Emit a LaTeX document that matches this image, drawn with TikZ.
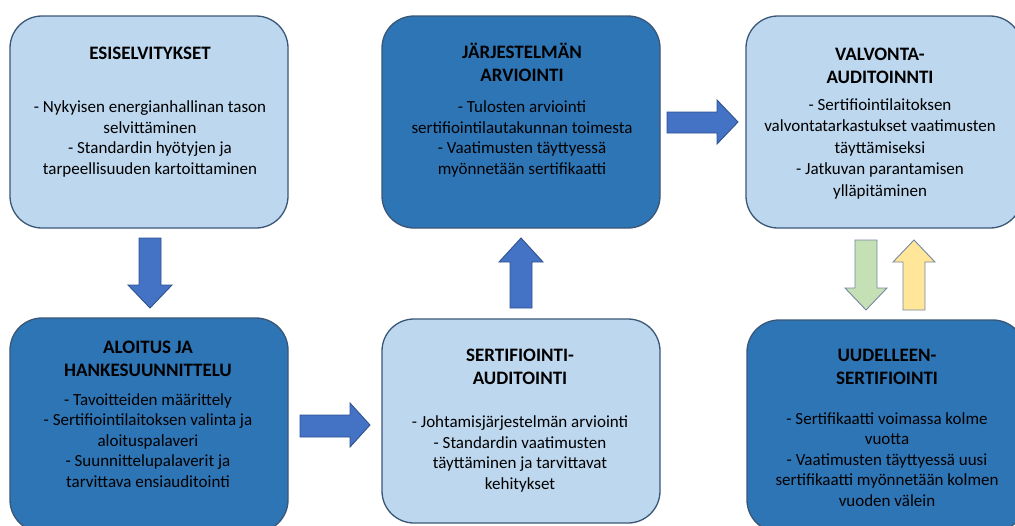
\documentclass[tikz,border=0pt]{standalone}
\usepackage{fontspec}
\setmainfont{Carlito}
\definecolor{paleblue}{HTML}{BDD7EE}
\definecolor{deepblue}{HTML}{2E75B6}
\definecolor{boxline}{HTML}{3A5676}
\definecolor{arrowfill}{HTML}{4472C4}
\definecolor{arrowline}{HTML}{2F528F}
\definecolor{greenfill}{HTML}{C5E0B4}
\definecolor{yellowfill}{HTML}{FFE699}
\definecolor{softline}{HTML}{7387A3}
\tikzset{
  stage/.style={draw=boxline, line width=1.3pt, rounded corners=32pt, inner sep=0pt},
  palestage/.style={stage, fill=paleblue},
  deepstage/.style={stage, fill=deepblue},
  % multi-line texts are placed by the baseline of their last line
  hdr/.style={anchor=base, align=center, inner sep=0pt, text=black,
    font=\fontsize{19}{23}\selectfont\bfseries},
  txt/.style={anchor=base, align=center, inner sep=0pt, text=black,
    font=\fontsize{17}{20.6}\selectfont},
  blockarrow/.style={draw=arrowline, fill=arrowfill, line width=0.9pt, line join=miter},
  greenarrow/.style={draw=softline, fill=greenfill, line width=0.9pt, line join=miter},
  yellowarrow/.style={draw=softline, fill=yellowfill, line width=0.9pt, line join=miter}
}
\begin{document}
\begin{tikzpicture}[x=1pt, y=-1pt]
\useasboundingbox (0,0) rectangle (1015,525);
\clip (0,0) rectangle (1015,525);

% stage boxes
\node[palestage, minimum width=278pt, minimum height=212pt] (esi) at (149,122) {};
\node[deepstage, minimum width=278pt, minimum height=212pt] (arv) at (521,122) {};
\node[palestage, minimum width=276pt, minimum height=212pt] (val) at (884,122) {};
\node[deepstage, minimum width=278pt, minimum height=214pt] (alo) at (149,425) {};
\node[palestage, minimum width=278pt, minimum height=204pt] (ser) at (521,421) {};
\node[deepstage, minimum width=278pt, minimum height=212pt] (uud) at (886,426) {};

% texts
\node[hdr] (esi-h) at (150,59) {ESISELVITYKSET};
\node[txt] (esi-t) at (150,174.5) {- Nykyisen energianhallinan tason\\selvittäminen\\- Standardin hyötyjen ja\\tarpeellisuuden kartoittaminen};

\node[hdr] (arv-h) at (522,81) {JÄRJESTELMÄN\\ARVIOINTI};
\node[txt] (arv-t) at (522,174.5) {- Tulosten arviointi\\sertifiointilautakunnan toimesta\\- Vaatimusten täyttyessä\\myönnetään sertifikaatti};

\node[hdr] (val-h) at (880,83) {VALVONTA-\\AUDITOINNTI};
\node[txt, font=\fontsize{17}{21.6}\selectfont] (val-t) at (880,196.5) {- Sertifiointilaitoksen\\valvontatarkastukset vaatimusten\\täyttämiseksi\\- Jatkuvan parantamisen\\ylläpitäminen};

\node[hdr] (alo-h) at (148,376) {ALOITUS JA\\HANKESUUNNITTELU};
\node[txt] (alo-t) at (148,487.5) {- Tavoitteiden määrittely\\- Sertifiointilaitoksen valinta ja\\aloituspalaveri\\- Suunnittelupalaverit ja\\tarvittava ensiauditointi};

\node[hdr] (ser-h) at (520,384) {SERTIFIOINTI-\\AUDITOINTI};
\node[txt] (ser-t) at (520,489.5) {- Johtamisjärjestelmän arviointi\\- Standardin vaatimusten\\täyttäminen ja tarvittavat\\kehitykset};

\node[hdr] (uud-h) at (887,384) {UUDELLEEN-\\SERTIFIOINTI};
\node[txt] (uud-t) at (887,506.5) {- Sertifikaatti voimassa kolme\\vuotta\\- Vaatimusten täyttyessä uusi\\sertifikaatti myönnetään kolmen\\vuoden välein};

% block arrows between stages
\draw[blockarrow] (139,238) -- (161,238) -- (161,285) -- (172,285) -- (150,308)
  -- (128,285) -- (139,285) -- cycle;
\draw[blockarrow] (300,415) -- (350,415) -- (350,403) -- (370,425) -- (350,447)
  -- (350,437) -- (300,437) -- cycle;
\draw[blockarrow] (510,308) -- (532,308) -- (532,262) -- (543,262) -- (521,238)
  -- (499,262) -- (510,262) -- cycle;
\draw[blockarrow] (667,112) -- (717,112) -- (717,100) -- (738,122) -- (717,144)
  -- (717,133) -- (667,133) -- cycle;
\draw[greenarrow] (855,240) -- (877,240) -- (877,288) -- (887,288) -- (866,310)
  -- (845,288) -- (855,288) -- cycle;
\draw[yellowarrow] (903,310) -- (925,310) -- (925,262) -- (935,262) -- (914,240)
  -- (893,262) -- (903,262) -- cycle;
\end{tikzpicture}
\end{document}
